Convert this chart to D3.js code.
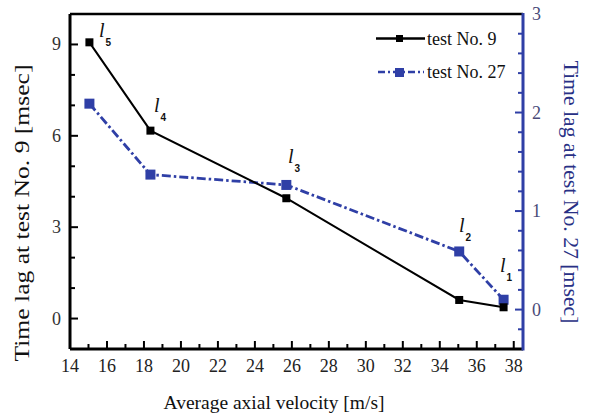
<!DOCTYPE html>
<html><head><meta charset="utf-8">
<script src="https://cdn.jsdelivr.net/npm/d3@7"></script>
</head><body style="margin:0;background:#fff">
<svg id="c" width="590" height="417" style="display:block"></svg>
<script>
const velocity = [15.05, 18.35, 25.7, 35.05, 37.45];
const test9 = [9.07, 6.17, 3.95, 0.61, 0.37];
const test27 = [2.09, 1.37, 1.265, 0.59, 0.10];
const pointLabels = ["5", "4", "3", "2", "1"];
const xTicks = [14, 16, 18, 20, 22, 24, 26, 28, 30, 32, 34, 36, 38];
const yLeftTicks = [0, 3, 6, 9];
const yRightTicks = [0, 1, 2, 3];
const seriesNames = ["test No. 9", "test No. 27"];

const SERIF = "Liberation Serif";
const SANS = "Liberation Sans";
const svg = d3.select("#c");
const L = 70, R = 523, T = 14, B = 349;
const blue = "#2f3fa6", navy = "#283085";
const x = d3.scaleLinear().domain([14, 38.5]).range([L, R]);
const yL = d3.scaleLinear().domain([-1, 10]).range([B, T]);
const yR = d3.scaleLinear().domain([-0.4, 3]).range([B, T]);

// ticks
const g = svg.append("g");
d3.range(15, 38.5, 1).forEach(v => {
  const major = xTicks.includes(v);
  g.append("line").attr("x1", x(v)).attr("x2", x(v)).attr("y1", B).attr("y2", B - (major ? 8 : 5)).attr("stroke", "#000").attr("stroke-width", 2);
});
d3.range(0, 10, 1).forEach(v => {
  const major = yLeftTicks.includes(v);
  g.append("line").attr("x1", L).attr("x2", L + (major ? 8 : 5)).attr("y1", yL(v)).attr("y2", yL(v)).attr("stroke", "#000").attr("stroke-width", 2);
});
d3.range(-0.2, 3, 0.2).forEach(v => {
  v = Math.round(v * 10) / 10;
  const major = Math.abs(v - Math.round(v)) < 1e-6;
  g.append("line").attr("x1", R).attr("x2", R - (major ? 8 : 5)).attr("y1", yR(v)).attr("y2", yR(v)).attr("stroke", blue).attr("stroke-width", 2);
});

// frame
svg.append("line").attr("x1", L).attr("x2", R).attr("y1", T).attr("y2", T).attr("stroke", "#000").attr("stroke-width", 2.5);
svg.append("line").attr("x1", L).attr("x2", L).attr("y1", T).attr("y2", B).attr("stroke", "#000").attr("stroke-width", 3);
svg.append("line").attr("x1", L).attr("x2", R).attr("y1", B).attr("y2", B).attr("stroke", "#000").attr("stroke-width", 3);
svg.append("line").attr("x1", R).attr("x2", R).attr("y1", T - 1).attr("y2", B + 1.5).attr("stroke", blue).attr("stroke-width", 3);

// tick labels
svg.selectAll(".xt").data(xTicks).join("text").attr("x", d => x(d)).attr("y", 372).style("font-family", SERIF)
  .attr("text-anchor", "middle").attr("font-size", 18).attr("fill", "#222").text(d => d);
svg.selectAll(".yl").data(yLeftTicks).join("text").attr("x", 61).attr("y", d => yL(d) + 6).style("font-family", SERIF)
  .attr("text-anchor", "end").attr("font-size", 18).attr("fill", "#333").text(d => d);
svg.selectAll(".yr").data(yRightTicks).join("text").attr("x", 532).attr("y", d => yR(d) + 6).style("font-family", SERIF)
  .attr("text-anchor", "start").attr("font-size", 18).attr("fill", "#4a4a78").text(d => d);

// axis titles
svg.append("text").attr("x", 274).attr("y", 409).attr("text-anchor", "middle").attr("font-size", 19).style("font-family", SERIF)
  .attr("fill", "#111").attr("textLength", 221).attr("lengthAdjust", "spacingAndGlyphs").text("Average axial velocity [m/s]");
svg.append("text").attr("transform", "translate(29,213) rotate(-90)").attr("text-anchor", "middle").attr("font-size", 21).style("font-family", SERIF)
  .attr("fill", "#111").attr("textLength", 297).attr("lengthAdjust", "spacingAndGlyphs").text("Time lag at test No. 9 [msec]");
svg.append("text").attr("transform", "translate(564,192) rotate(90)").attr("text-anchor", "middle").attr("font-size", 20).style("font-family", SERIF)
  .attr("fill", navy).attr("textLength", 263).attr("lengthAdjust", "spacingAndGlyphs").text("Time lag at test No. 27 [msec]");

// series lines
const line9 = d3.line().x((d, i) => x(velocity[i])).y(d => yL(d));
const line27 = d3.line().x((d, i) => x(velocity[i])).y(d => yR(d));
svg.append("path").attr("d", line27(test27)).attr("fill", "none").attr("stroke", blue).attr("stroke-width", 2.8)
  .attr("stroke-dasharray", "9,3,2.5,3");
svg.append("path").attr("d", line9(test9)).attr("fill", "none").attr("stroke", "#000").attr("stroke-width", 2);
svg.selectAll(".m27").data(test27).join("rect").attr("x", (d, i) => x(velocity[i]) - 5).attr("y", d => yR(d) - 5)
  .attr("width", 10).attr("height", 10).attr("fill", blue);
svg.selectAll(".m9").data(test9).join("rect").attr("x", (d, i) => x(velocity[i]) - 4).attr("y", d => yL(d) - 4)
  .attr("width", 8).attr("height", 8).attr("fill", "#000");

// point labels l_n
const labelPos = [[99, 37], [154, 112], [288, 163], [459, 232], [500, 272]];
labelPos.forEach((p, i) => {
  const t = svg.append("text").attr("x", p[0]).attr("y", p[1]).attr("font-size", 20).style("font-family", SERIF).attr("font-style", "italic").attr("fill", "#111");
  t.append("tspan").text("l");
  t.append("tspan").attr("dx", 1).attr("dy", 9).attr("font-size", 10).attr("font-weight", "bold").attr("font-style", "normal")
    .style("font-family", SANS).text(pointLabels[i]);
});

// legend
const lg = svg.append("g");
lg.append("line").attr("x1", 376).attr("x2", 425).attr("y1", 38.5).attr("y2", 38.5).attr("stroke", "#000").attr("stroke-width", 2.5);
lg.append("rect").attr("x", 396).attr("y", 35).attr("width", 7).attr("height", 7).attr("fill", "#000");
lg.append("line").attr("x1", 378).attr("x2", 424).attr("y1", 72).attr("y2", 72).attr("stroke", blue).attr("stroke-width", 2.5).attr("stroke-dasharray", "7,3,2,3");
lg.append("rect").attr("x", 395).attr("y", 68).attr("width", 9).attr("height", 9).attr("fill", blue);
lg.append("text").attr("x", 427).attr("y", 45).attr("font-size", 18).style("font-family", SERIF).attr("fill", "#111").text(seriesNames[0]);
lg.append("text").attr("x", 427).attr("y", 78).attr("font-size", 18).style("font-family", SERIF).attr("fill", "#111").text(seriesNames[1]);
</script></body></html>
